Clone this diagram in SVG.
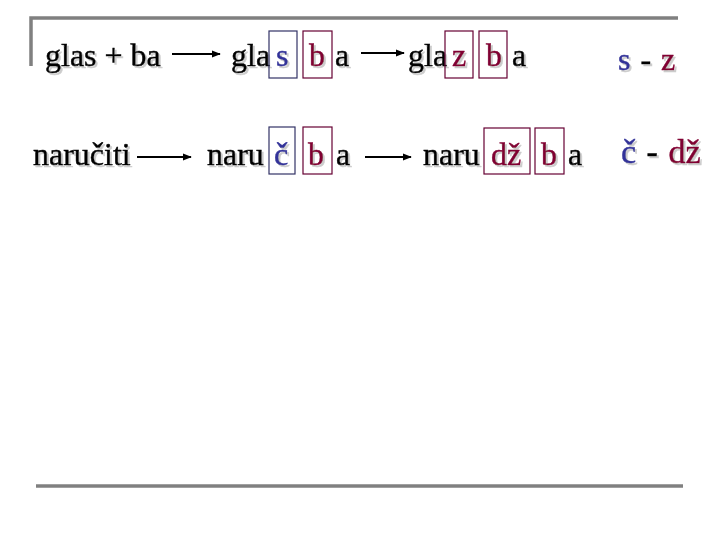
<svg xmlns="http://www.w3.org/2000/svg" width="720" height="540" viewBox="0 0 720 540">
<defs>
<filter id="sh" x="-20%" y="-20%" width="140%" height="140%">
<feDropShadow dx="2" dy="2" stdDeviation="0.7" flood-color="#999" flood-opacity="0.5"/>
</filter>
<marker id="ah" viewBox="0 0 10 10" refX="9" refY="5" markerWidth="9" markerHeight="9" markerUnits="userSpaceOnUse" orient="auto">
<path d="M0,1 L10,5 L0,9 Z" fill="#000"/>
</marker>
<style>
text{font-family:"Liberation Serif","Times New Roman",serif;font-size:32px;filter:url(#sh);stroke-width:0.45}
.k{fill:#000;stroke:#000}
.bl{fill:#333399;stroke:#333399}
.rd{fill:#800033;stroke:#800033}
.bb{fill:none;stroke:#333366;stroke-width:1.2}
.rb{fill:none;stroke:#660033;stroke-width:1.2}
.frame{fill:none;stroke:#808080;stroke-width:3.5}
.conn{stroke:#000;stroke-width:2;fill:none;marker-end:url(#ah)}
</style>
</defs>
<rect width="720" height="540" fill="#fff"/>
<path class="frame" d="M31,66 V18 H678"/>
<line class="frame" x1="36" y1="486" x2="683" y2="486"/>

<g id="connectors">
<line class="conn" x1="172" y1="54" x2="220" y2="54"/>
<line class="conn" x1="361" y1="53" x2="404" y2="53"/>
<line class="conn" x1="137" y1="157" x2="191" y2="157"/>
<line class="conn" x1="365" y1="157" x2="411" y2="157"/>
</g>

<g id="n-glas">
<text class="k" x="45" y="66">glas + ba</text>
</g>
<g id="n-glasba">
<text class="k" x="231" y="66">gla</text>
<rect class="bb" x="269" y="31" width="28" height="47"/>
<text class="bl" x="276" y="66">s</text>
<rect class="rb" x="303" y="31" width="29" height="47"/>
<text class="rd" x="309" y="66">b</text>
<text class="k" x="335" y="66">a</text>
</g>
<g id="n-glazba">
<text class="k" x="408" y="66">gla</text>
<rect class="rb" x="445" y="31" width="28" height="47"/>
<text class="rd" x="452" y="66">z</text>
<rect class="rb" x="479" y="31" width="28" height="47"/>
<text class="rd" x="486" y="66">b</text>
<text class="k" x="512" y="66">a</text>
</g>
<g id="n-sz">
<text x="618" y="70"><tspan class="bl">s</tspan><tspan class="k" dx="2"> - </tspan><tspan class="rd" dx="2">z</tspan></text>
</g>

<g id="n-narucititi">
<text class="k" x="33" y="165">naručiti</text>
</g>
<g id="n-narucba">
<text class="k" x="207" y="165">naru</text>
<rect class="bb" x="269" y="127" width="26" height="47"/>
<text class="bl" x="274" y="165">č</text>
<rect class="rb" x="303" y="127" width="29" height="47"/>
<text class="rd" x="308" y="165">b</text>
<text class="k" x="336" y="165">a</text>
</g>
<g id="n-narudzba">
<text class="k" x="423" y="165">naru</text>
<rect class="rb" x="484" y="128" width="46" height="46"/>
<text class="rd" x="491" y="165">dž</text>
<rect class="rb" x="535" y="128" width="29" height="46"/>
<text class="rd" x="541" y="165">b</text>
<text class="k" x="568" y="165">a</text>
</g>
<g id="n-cdz">
<text x="621" y="163" style="font-size:34px"><tspan class="bl">č</tspan><tspan class="k" dx="2"> - </tspan><tspan class="rd" dx="2">dž</tspan></text>
</g>
</svg>
